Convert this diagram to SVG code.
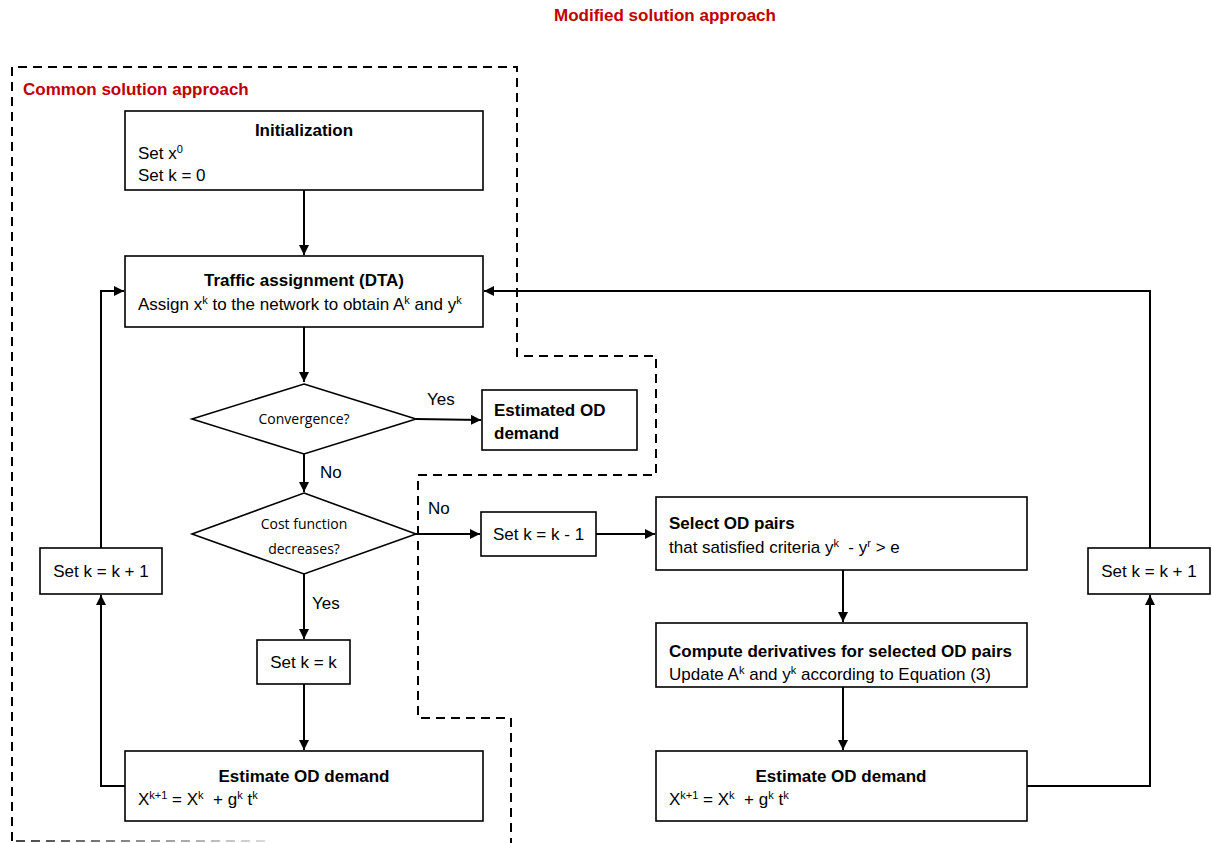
<svg xmlns="http://www.w3.org/2000/svg" width="1212" height="843" viewBox="0 0 1212 843">
<style>
.box{fill:#fff;stroke:#000;stroke-width:1.6}
.dia{fill:#fff;stroke:#000;stroke-width:1.6}
.t{font-family:"Liberation Sans",Arial,sans-serif;font-size:17px;fill:#000}
.b{font-weight:bold}
.d{font-family:"Open Sans","Noto Sans",sans-serif;font-size:14px;fill:#000}
.red{font-family:"Liberation Sans",Arial,sans-serif;font-size:17px;font-weight:bold;fill:#C00000}
.c{fill:none;stroke:#000;stroke-width:2}
.dash{fill:none;stroke:#000;stroke-width:2;stroke-dasharray:9 6}
</style>
<defs>
<marker id="ah" viewBox="0 0 10 10" refX="10" refY="5" markerWidth="5" markerHeight="5" orient="auto" markerUnits="strokeWidth">
<path d="M0,0 L10,5 L0,10 z" fill="#000"/>
</marker>
<linearGradient id="fade" gradientUnits="userSpaceOnUse" x1="12" y1="0" x2="270" y2="0">
<stop offset="0" stop-color="#444"/>
<stop offset="1" stop-color="#ddd"/>
</linearGradient>
</defs>

<g id="regions">
<path class="dash" d="M12,841 L12,67 L517,67 L517,356 L656,356 L656,475 L418,475 L418,718 L511,718 L511,843"/>
<path d="M16,841 L268,841" fill="none" stroke="url(#fade)" stroke-width="2" stroke-dasharray="9 6"/>
<text class="red" x="665" y="21" text-anchor="middle">Modified solution approach</text>
<text class="red" x="23" y="95">Common solution approach</text>
</g>

<g id="connectors">
<line class="c" x1="304" y1="190" x2="304" y2="255" marker-end="url(#ah)"/>
<line class="c" x1="304" y1="327" x2="304" y2="382" marker-end="url(#ah)"/>
<line class="c" x1="416" y1="419" x2="481" y2="420" marker-end="url(#ah)"/>
<line class="c" x1="304" y1="454" x2="304" y2="492" marker-end="url(#ah)"/>
<line class="c" x1="416" y1="534" x2="480" y2="534" marker-end="url(#ah)"/>
<line class="c" x1="596" y1="534" x2="655" y2="534" marker-end="url(#ah)"/>
<line class="c" x1="843" y1="570" x2="843" y2="622" marker-end="url(#ah)"/>
<line class="c" x1="843" y1="687" x2="843" y2="750" marker-end="url(#ah)"/>
<polyline class="c" points="1027,786 1150,786 1150,595" marker-end="url(#ah)"/>
<polyline class="c" points="1150,548 1150,291 484,291" marker-end="url(#ah)"/>
<line class="c" x1="304" y1="574" x2="304" y2="639" marker-end="url(#ah)"/>
<line class="c" x1="304" y1="684" x2="304" y2="750" marker-end="url(#ah)"/>
<polyline class="c" points="125,786 101,786 101,595" marker-end="url(#ah)"/>
<polyline class="c" points="101,548 101,291 124,291" marker-end="url(#ah)"/>
<text class="t" x="427" y="405">Yes</text>
<text class="t" x="320" y="478">No</text>
<text class="t" x="428" y="514">No</text>
<text class="t" x="312" y="609">Yes</text>
</g>

<g id="init">
<rect class="box" x="125" y="111" width="358" height="79"/>
<text class="t b" x="304" y="136" text-anchor="middle">Initialization</text>
<text class="t" x="138" y="159">Set x<tspan dy="-6" font-size="11">0</tspan></text>
<text class="t" x="138" y="181">Set k = 0</text>
</g>

<g id="traffic">
<rect class="box" x="125" y="256" width="358" height="71"/>
<text class="t b" x="304" y="286" text-anchor="middle">Traffic assignment (DTA)</text>
<text class="t" x="138" y="310">Assign x<tspan dy="-6" font-size="11">k</tspan><tspan dy="6"> to the network to obtain A</tspan><tspan dy="-6" font-size="11">k</tspan><tspan dy="6"> and y</tspan><tspan dy="-6" font-size="11">k</tspan></text>
</g>

<g id="convergence">
<polygon class="dia" points="304,384 416,419 304,454 192,419"/>
<text class="d" x="304" y="424" text-anchor="middle">Convergence?</text>
</g>

<g id="estimated">
<rect class="box" x="482" y="390" width="155" height="60"/>
<text class="t b" x="494" y="416">Estimated OD</text>
<text class="t b" x="494" y="439">demand</text>
</g>

<g id="cost">
<polygon class="dia" points="304,493 416,534 304,574 192,534"/>
<text class="d" x="304" y="529" text-anchor="middle">Cost function</text>
<text class="d" x="304" y="554" text-anchor="middle">decreases?</text>
</g>

<g id="setkminus">
<rect class="box" x="481" y="512" width="115" height="44"/>
<text class="t" x="538.5" y="540" text-anchor="middle">Set k = k - 1</text>
</g>

<g id="select">
<rect class="box" x="656" y="497" width="371" height="73"/>
<text class="t b" x="669" y="529">Select OD pairs</text>
<text class="t" x="669" y="553" xml:space="preserve">that satisfied criteria y<tspan dy="-6" font-size="11">k</tspan><tspan dy="6">  - y</tspan><tspan dy="-6" font-size="11">r</tspan><tspan dy="6"> &gt; e</tspan></text>
</g>

<g id="compute">
<rect class="box" x="656" y="623" width="371" height="64"/>
<text class="t b" x="669" y="657">Compute derivatives for selected OD pairs</text>
<text class="t" x="669" y="680">Update A<tspan dy="-6" font-size="11">k</tspan><tspan dy="6"> and y</tspan><tspan dy="-6" font-size="11">k</tspan><tspan dy="6"> according to Equation (3)</tspan></text>
</g>

<g id="setkeq">
<rect class="box" x="257" y="640" width="93" height="44"/>
<text class="t" x="303.5" y="668" text-anchor="middle">Set k = k</text>
</g>

<g id="estimate-left">
<rect class="box" x="125" y="751" width="358" height="70"/>
<text class="t b" x="304" y="782" text-anchor="middle">Estimate OD demand</text>
<text class="t" x="138" y="805" xml:space="preserve">X<tspan dy="-6" font-size="11">k+1</tspan><tspan dy="6"> = X</tspan><tspan dy="-6" font-size="11">k</tspan><tspan dy="6">  + g</tspan><tspan dy="-6" font-size="11">k</tspan><tspan dy="6"> t</tspan><tspan dy="-6" font-size="11">k</tspan></text>
</g>

<g id="estimate-right">
<rect class="box" x="656" y="751" width="371" height="70"/>
<text class="t b" x="841" y="782" text-anchor="middle">Estimate OD demand</text>
<text class="t" x="669" y="805" xml:space="preserve">X<tspan dy="-6" font-size="11">k+1</tspan><tspan dy="6"> = X</tspan><tspan dy="-6" font-size="11">k</tspan><tspan dy="6">  + g</tspan><tspan dy="-6" font-size="11">k</tspan><tspan dy="6"> t</tspan><tspan dy="-6" font-size="11">k</tspan></text>
</g>

<g id="setkplus-left">
<rect class="box" x="40" y="548" width="122" height="46"/>
<text class="t" x="101" y="577" text-anchor="middle">Set k = k + 1</text>
</g>

<g id="setkplus-right">
<rect class="box" x="1088" y="548" width="122" height="46"/>
<text class="t" x="1149" y="577" text-anchor="middle">Set k = k + 1</text>
</g>
</svg>
